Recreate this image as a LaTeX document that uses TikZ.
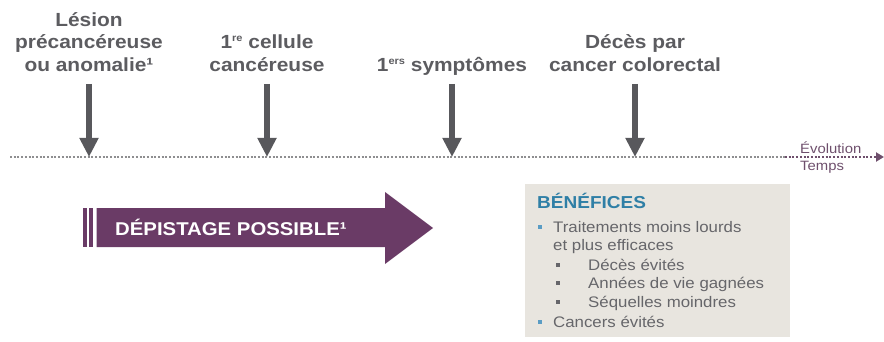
\documentclass[tikz,border=0pt]{standalone}
\usepackage{fontspec}
\setmainfont{Liberation Sans}[FakeStretch=1.1]
\usetikzlibrary{arrows.meta}
\definecolor{labgray}{HTML}{5C5C60}
\definecolor{arrgray}{HTML}{58585C}
\definecolor{dotgray}{HTML}{8E8E90}
\definecolor{purp}{HTML}{6A3B66}
\definecolor{evo}{HTML}{6E4F6C}
\definecolor{boxbg}{HTML}{E8E5DF}
\definecolor{titleblue}{HTML}{2F7FA6}
\definecolor{bulblue}{HTML}{5A9CC4}
\definecolor{bodygray}{HTML}{66666A}
\newcommand\mysup[1]{\raisebox{0.72ex}{\fontsize{10}{10}\selectfont #1}}
\begin{document}
\begin{tikzpicture}[x=1pt,y=-1pt,
  lab/.style={font=\fontsize{19}{22}\selectfont\bfseries, text=labgray, anchor=base, inner sep=0pt},
  varrow/.style={draw=arrgray, line width=6pt, -{Triangle[width=18pt,length=19pt]}},
  tline/.style={line width=2.4pt, dash pattern=on 2pt off 1.7pt},
  evotext/.style={font=\fontsize{13.5}{15}\selectfont, text=evo, anchor=base west, inner sep=0pt},
  btitle/.style={font=\fontsize{17.3}{20}\selectfont\bfseries, text=titleblue, anchor=base west, inner sep=0pt},
  btext/.style={font=\fontsize{15.3}{18}\selectfont, text=bodygray, anchor=base west, inner sep=0pt},
  bul/.style={rectangle, fill=bulblue, inner sep=0pt, minimum size=4pt},
  subbul/.style={rectangle, fill=bodygray, inner sep=0pt, minimum size=3.6pt},
  depfill/.style={fill=purp}
]
\useasboundingbox (0,0) rectangle (884,342);

% timeline
\coordinate (tl0) at (10,157);
\coordinate (tl1) at (785,157);
\coordinate (tlend) at (884,157);
\draw[tline, draw=dotgray] (tl0) -- (tl1);
\draw[tline, draw=evo, -{Triangle[width=9pt,length=8pt]}] (tl1) -- (tlend);
\node[evotext] (evol) at (800,154) {Évolution};
\node[evotext] (temps) at (800,171) {Temps};

% labels
\node[lab] (l1a) at (89,27) {Lésion};
\node[lab] (l1b) at (89,49) {précancéreuse};
\node[lab] (l1c) at (89,72) {ou anomalie¹};
\node[lab] (l2a) at (267,49) {1\mysup{re} cellule};
\node[lab] (l2b) at (267,72) {cancéreuse};
\node[lab] (l3) at (452,72) {1\mysup{ers} symptômes};
\node[lab] (l4a) at (635,49) {Décès par};
\node[lab] (l4b) at (635,72) {cancer colorectal};

% vertical arrows
\foreach \n/\x in {a1/89, a2/267, a3/452, a4/635}{
  \coordinate (\n top) at (\x,84);
  \coordinate (\n tip) at (\x,157);
}
\draw[varrow] (a1top) -- (a1tip);
\draw[varrow] (a2top) -- (a2tip);
\draw[varrow] (a3top) -- (a3tip);
\draw[varrow] (a4top) -- (a4tip);

% depistage arrow
\fill[depfill] (83.3,208) rectangle (86.7,247);
\fill[depfill] (89.3,208) rectangle (93.3,247);
\fill[depfill] (96.5,208) -- (385,208) -- (385,192) -- (433,228) -- (385,264) -- (385,247) -- (96.5,247) -- cycle;
\node[font=\fontsize{18.5}{20}\selectfont\bfseries, text=white, anchor=base west, inner sep=0pt] (dep) at (115,236) {DÉPISTAGE POSSIBLE¹};

% benefits box
\node[fill=boxbg, anchor=north west, minimum width=265pt, minimum height=153pt, inner sep=0pt] (box) at (525,184) {};
\node[btitle] (bt) at (537,208) {BÉNÉFICES};
\node[bul] (b1) at (540,227) {};
\node[btext] (t1) at (553,232) {Traitements moins lourds};
\node[btext] (t1b) at (553,251) {et plus efficaces};
\node[subbul] (s1) at (558,265) {};
\node[btext] (t2) at (588,270) {Décès évités};
\node[subbul] (s2) at (558,283) {};
\node[btext] (t3) at (588,288) {Années de vie gagnées};
\node[subbul] (s3) at (558,302) {};
\node[btext] (t4) at (588,307) {Séquelles moindres};
\node[bul] (b2) at (540,322) {};
\node[btext] (t5) at (553,327) {Cancers évités};
\end{tikzpicture}
\end{document}
